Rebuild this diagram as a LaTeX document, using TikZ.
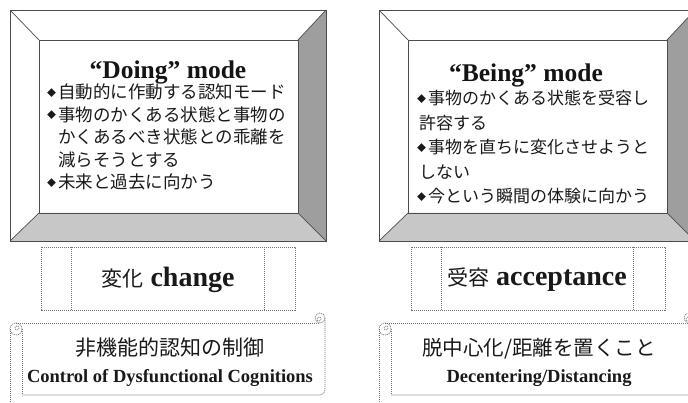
\documentclass[tikz,border=0pt]{standalone}
\usepackage{fontspec}
\setmainfont{Liberation Serif}
\newfontfamily\jp{Noto Sans CJK JP}
\newcommand\dia{\makebox[11pt][l]{\raisebox{2.5pt}{\fontsize{9}{9}\selectfont ◆}}}
\newcommand\bevelframe[8]{%
  \fill[botface] (#1,#4) -- (#3,#4) -- (#7,#8) -- (#5,#8) -- cycle;
  \fill[rightface] (#3,#2) -- (#3,#4) -- (#7,#8) -- (#7,#6) -- cycle;
  \draw[frameline] (#1,#2) rectangle (#3,#4);
  \draw[frameline] (#5,#6) rectangle (#7,#8);
  \draw[frameline] (#1,#2) -- (#5,#6) (#3,#2) -- (#7,#6) (#3,#4) -- (#7,#8) (#1,#4) -- (#5,#8);
}
\newcommand\scrollshape[4]{% L T R B
  \draw[scrollline] (#1+6,#2) -- (#3-5,#2);
  \draw[scrollline,rounded corners=5pt] (#3,#2-5) -- (#3,#4) -- (#1+12,#4);
  \draw[scrollline] (#3-5,#2-5) circle[radius=5];
  \draw[scrollline] (#3-6,#2-4) circle[radius=2];
  \draw[scrollline] (#1+6,#2+6) circle[radius=6];
  \draw[scrollline] (#1+7,#2+5) circle[radius=2];
  \draw[scrollline] (#1,#2+6) -- (#1,410);
  \draw[scrollline] (#1+12,#2+6) -- (#1+12,#4);
}
\begin{document}
\begin{tikzpicture}[x=1pt,y=-1pt,
  frameline/.style={draw=black!70, line width=0.7pt},
  botface/.style={fill=black!22},
  rightface/.style={fill=black!38},
  scrollline/.style={draw=black!55, line width=0.6pt, dash pattern=on 1.2pt off 0.8pt},
  boxline/.style={draw=black!55, line width=0.6pt, dash pattern=on 1.2pt off 0.8pt},
  titletext/.style={font=\fontsize{25.5}{25.5}\selectfont\bfseries, text=black!92, inner sep=0pt, anchor=base},
  ltxt/.style={font=\jp\fontsize{17.5}{17.5}\selectfont, text=black!90, inner sep=0pt, anchor=base west},
  rtxt/.style={font=\jp\fontsize{17}{17}\selectfont, text=black!90, inner sep=0pt, anchor=base west},
  bigtxt/.style={font=\fontsize{28}{28}\selectfont\bfseries, text=black!90, inner sep=0pt},
  jpscroll/.style={font=\jp\fontsize{21}{21}\selectfont, text=black!90, inner sep=0pt},
  enscroll/.style={font=\fontsize{18.5}{18.5}\selectfont\bfseries, text=black!90, inner sep=0pt, anchor=base}
]
\useasboundingbox (0,0) rectangle (688,403);
\clip (0,0) rectangle (688,403);
\fill[white] (0,0) rectangle (688,403);

% bevel frames
\bevelframe{10}{10}{326}{241}{39}{40}{298}{213}
\bevelframe{379}{10}{695}{241}{408}{40}{667}{213}

% Doing mode text
\node[titletext] (doing) at (168,79) {“Doing” mode};
\node[ltxt] (d1) at (47,99) {\dia 自動的に作動する認知モード};
\node[ltxt] (d2) at (47,121.5) {\dia 事物のかくある状態と事物の};
\node[ltxt] (d3) at (58,144) {かくあるべき状態との乖離を};
\node[ltxt] (d4) at (58,166.5) {減らそうとする};
\node[ltxt] (d5) at (47,189) {\dia 未来と過去に向かう};

% Being mode text
\node[titletext] (being) at (526,82) {“Being” mode};
\node[rtxt] (b1) at (417,105) {\dia 事物のかくある状態を受容し};
\node[rtxt] (b2) at (419,129.5) {許容する};
\node[rtxt] (b3) at (417,154) {\dia 事物を直ちに変化させようと};
\node[rtxt] (b4) at (419,178.5) {しない};
\node[rtxt] (b5) at (417,203) {\dia 今という瞬間の体験に向かう};

% middle boxes
\draw[boxline] (41,247) rectangle (295,310) (71,247) -- (71,310) (264,247) -- (264,310);
\draw[boxline] (411,247) rectangle (665,310) (441,247) -- (441,310) (633,247) -- (633,310);
\node[bigtxt] (chg) at (168,280) {{\jp\mdseries\fontsize{21}{21}\selectfont 変化} change};
\node[bigtxt] (acc) at (537,280) {{\jp\mdseries\fontsize{21}{21}\selectfont 受容} acceptance};

% scrolls
\scrollshape{10}{323}{325}{395}
\scrollshape{379}{323}{694}{395}
\node[jpscroll] (s1) at (170,348) {非機能的認知の制御};
\node[enscroll] (s2) at (170,382) {Control of Dysfunctional Cognitions};
\node[jpscroll, font=\jp\fontsize{20.5}{20.5}\selectfont] (s3) at (539,349) {脱中心化/距離を置くこと};
\node[enscroll] (s4) at (539,382) {Decentering/Distancing};
\end{tikzpicture}
\end{document}
